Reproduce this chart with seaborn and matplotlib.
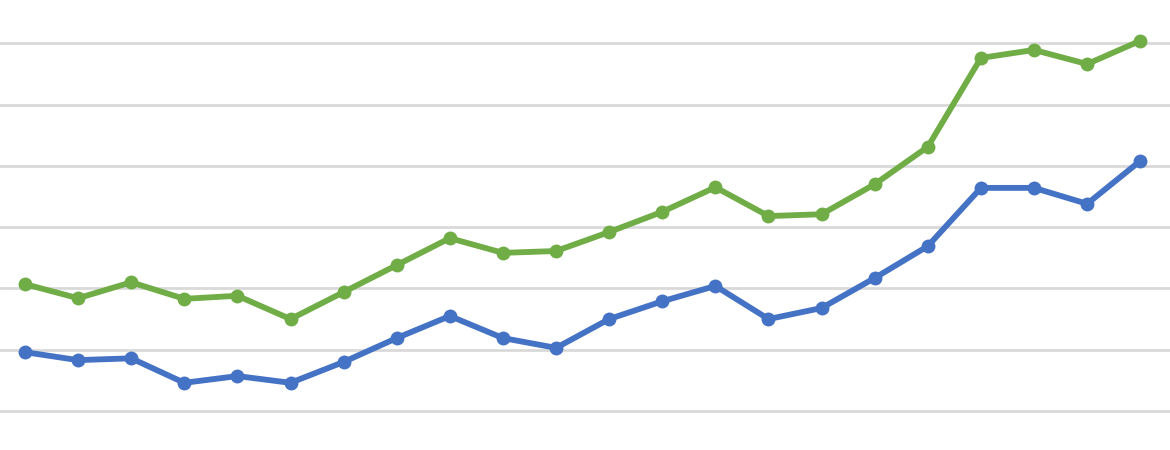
import pandas as pd
import matplotlib.pyplot as plt
import seaborn as sns

# values (gridlines every 10 units)
points = list(range(22))
green_vals = [20.7, 18.4, 21.0, 18.3, 18.8, 15.0, 19.4, 23.8, 28.2, 25.8, 26.1,
              29.2, 32.5, 36.5, 31.8, 32.1, 37.0, 43.1, 57.6, 58.9, 56.6, 60.4]
blue_vals = [9.6, 8.3, 8.6, 4.6, 5.7, 4.6, 8.0, 11.9, 15.5, 11.9, 10.3,
             15.0, 17.9, 20.4, 15.0, 16.8, 21.7, 26.9, 36.4, 36.4, 33.8, 40.8]

df = pd.DataFrame({
    "x": points * 2,
    "value": green_vals + blue_vals,
    "series": ["green"] * len(points) + ["blue"] * len(points),
})

sns.set_style("white")

fig = plt.figure(figsize=(11.7, 4.5), dpi=100)
ax = fig.add_axes([0, 0, 1, 1])

for y in range(0, 70, 10):
    ax.axhline(y, color="#d9d9d9", linewidth=2, zorder=0)

sns.lineplot(data=df, x="x", y="value", hue="series",
             palette={"green": "#70ad47", "blue": "#4472c4"},
             marker="o", markersize=10, markeredgewidth=0,
             linewidth=4.2, legend=False, ax=ax)

ax.set_xlim(-0.47, 21.56)
ax.set_ylim(-6.36, 67.05)
ax.set_xticks([])
ax.set_yticks([])
ax.set_xlabel("")
ax.set_ylabel("")
sns.despine(ax=ax, left=True, bottom=True)

plt.savefig("out.png", dpi=100)
